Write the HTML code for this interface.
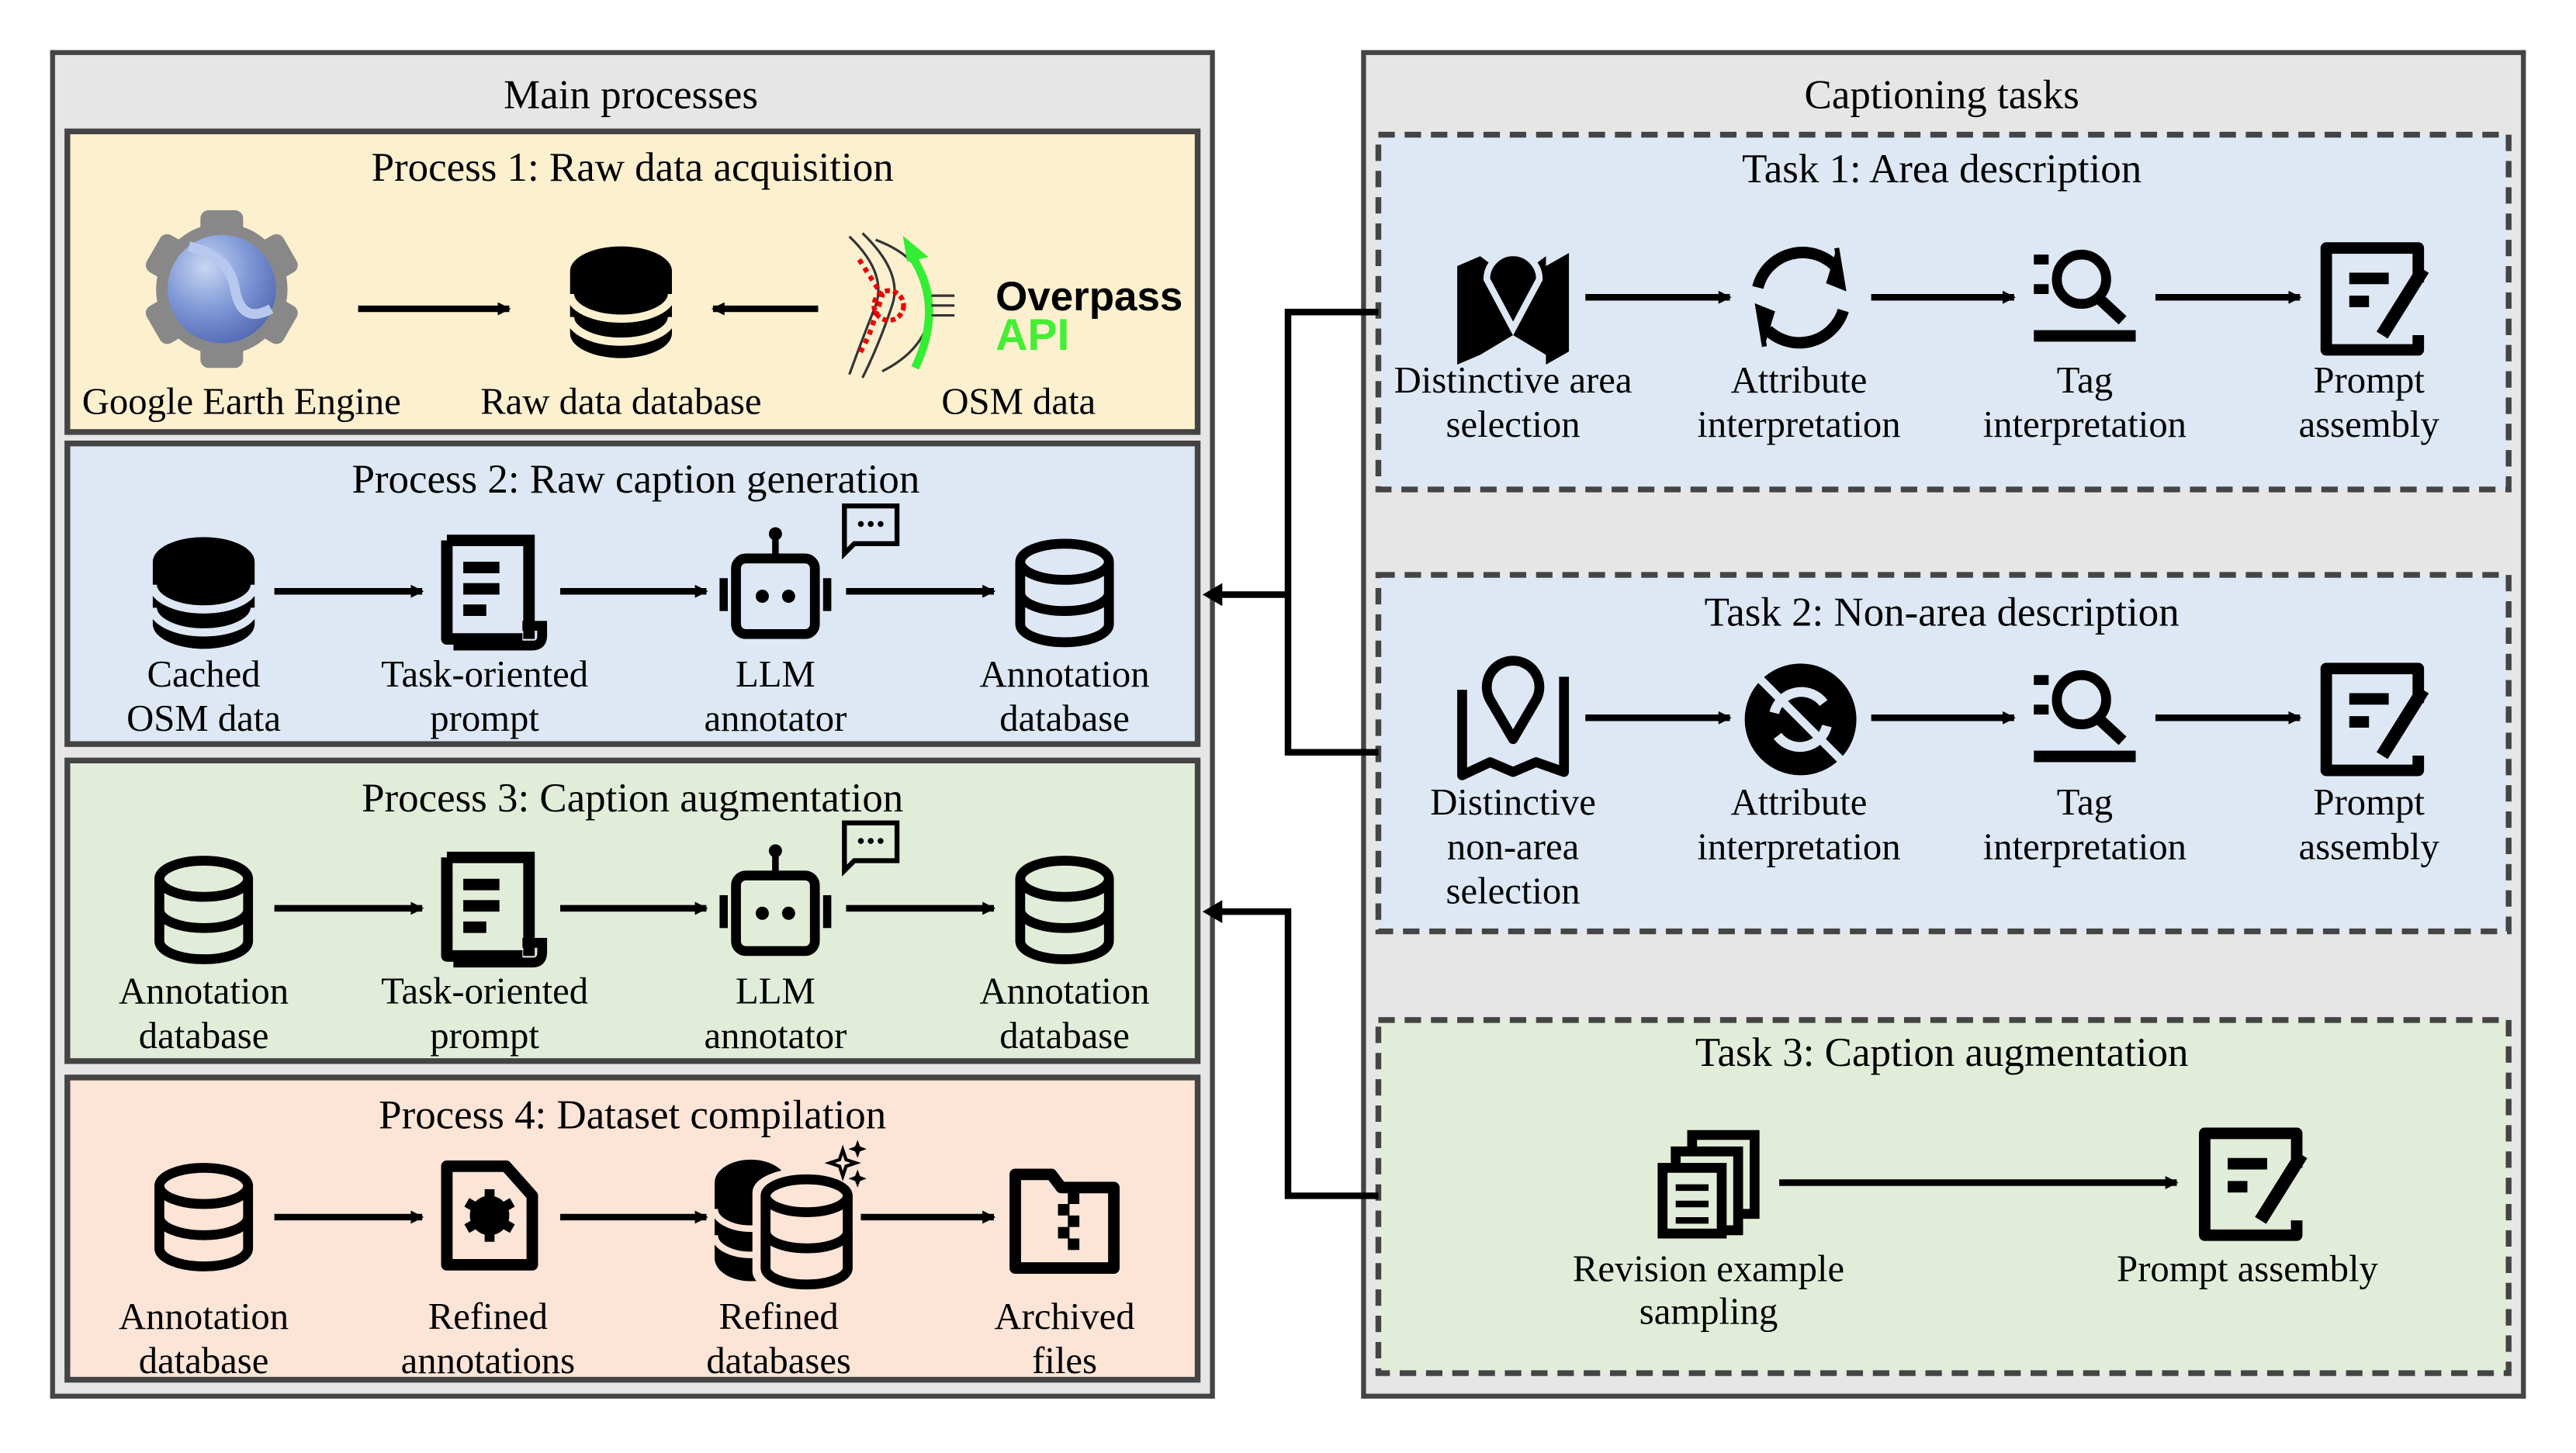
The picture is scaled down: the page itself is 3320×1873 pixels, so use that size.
<!DOCTYPE html>
<html><head><meta charset="utf-8"><style>html,body{margin:0;padding:0;background:#fff}svg{display:block}</style></head>
<body>
<svg width="3320" height="1873" viewBox="0 0 1568 884.6" xmlns="http://www.w3.org/2000/svg" font-family="'Liberation Serif', serif">
<defs>
<radialGradient id="glb" cx="0.35" cy="0.3" r="0.8"><stop offset="0" stop-color="#c7d6f2"/><stop offset="0.5" stop-color="#7f98d6"/><stop offset="1" stop-color="#4e63b0"/></radialGradient>
<marker id="ah" markerWidth="8" markerHeight="8" refX="7" refY="4" orient="auto" markerUnits="userSpaceOnUse"><path d="M0,0 L8,4 L0,8Z" fill="#000"/></marker>
<g id="odb" fill="none" stroke="#000" stroke-width="6"><ellipse cx="0" cy="-19" rx="27" ry="11"/><path d="M-27,-19 V19 A27,11 0 0 0 27,19 V-19"/><path d="M-27,0 A27,11 0 0 0 27,0"/></g>
<g id="doc"><path d="M-26,-30 H24 V30" fill="none" stroke="#000" stroke-width="7"/><path d="M-26,-30 V30 H20" fill="none" stroke="#000" stroke-width="7" stroke-linejoin="round"/><path d="M20,22 H32 V28 Q32,34 26,34 H-22" fill="none" stroke="#000" stroke-width="6"/><rect x="-16" y="-17" width="22" height="7"/><rect x="-16" y="-4" width="22" height="7"/><rect x="-16" y="9" width="14" height="7"/></g>
<g id="bot"><rect x="-24" y="-18" width="48" height="46" rx="6" fill="none" stroke="#000" stroke-width="6"/><circle cx="-8" cy="5" r="4"/><circle cx="8" cy="5" r="4"/><rect x="-2" y="-32" width="4" height="14"/><circle cx="0" cy="-33" r="4"/><rect x="-34" y="-6" width="5" height="20"/><rect x="29" y="-6" width="5" height="20"/><path d="M42,-50 H74 V-27 H48 L42,-21Z" fill="none" stroke="#000" stroke-width="3"/><circle cx="52" cy="-39" r="1.8"/><circle cx="58" cy="-39" r="1.8"/><circle cx="64" cy="-39" r="1.8"/></g>
<g id="pe"><path d="M28,-10 V-31 H-28 V31 H28 V22" fill="none" stroke="#000" stroke-width="7" stroke-linejoin="round"/><rect x="-14" y="-16" width="24" height="7"/><rect x="-14" y="-2" width="12" height="7"/><path d="M6,22 L31,-18" stroke="#000" stroke-width="8"/></g>
<g id="ls"><rect x="-32" y="-27" width="9" height="6"/><rect x="-32" y="-9" width="9" height="6"/><circle cx="-3" cy="-12" r="15" fill="none" stroke="#000" stroke-width="6"/><path d="M8,0 L22,13" stroke="#000" stroke-width="7"/><rect x="-32" y="19" width="62" height="7"/></g>
</defs>

<rect x="32" y="32" width="706" height="818" fill="#e6e6e6" stroke="#444" stroke-width="3"/>
<text x="384" y="66" font-size="25" text-anchor="middle">Main processes</text>

<rect x="41" y="80" width="688" height="183" fill="#fdf0cf" stroke="#444" stroke-width="3.5"/>
<rect x="41" y="270" width="688" height="183" fill="#dde8f4" stroke="#444" stroke-width="3.5"/>
<rect x="41" y="463" width="688" height="183" fill="#e2edd9" stroke="#444" stroke-width="3.5"/>
<rect x="41" y="656" width="688" height="184" fill="#fce4d6" stroke="#444" stroke-width="3.5"/>

<g font-size="25" text-anchor="middle">
<text x="385" y="110">Process 1: Raw data acquisition</text>
<text x="387" y="300">Process 2: Raw caption generation</text>
<text x="385" y="494">Process 3: Caption augmentation</text>
<text x="385" y="687">Process 4: Dataset compilation</text>
</g>

<g transform="translate(135,176)">
<g fill="#888"><circle r="40"/><rect x="-13" y="-48" width="26" height="96" rx="5"/><rect x="-13" y="-48" width="26" height="96" rx="5" transform="rotate(60)"/><rect x="-13" y="-48" width="26" height="96" rx="5" transform="rotate(120)"/></g>
<circle r="33" fill="url(#glb)"/>
<path d="M-20,-26 Q5,-20 8,0 Q12,22 30,12" fill="none" stroke="#b7c8ee" stroke-width="6"/>
</g>
<line x1="218" y1="188" x2="310" y2="188" stroke="#000" stroke-width="4" marker-end="url(#ah)"/>
<g transform="translate(378,183)"><path d="M-31,-18 A31,15 0 0 1 31,-18 V20 A31,15 0 0 1 -31,20Z"/><path d="M-31,-4 A31,15 0 0 0 31,-4 M-31,10 A31,15 0 0 0 31,10" fill="none" stroke="#fdf0cf" stroke-width="5"/></g>
<line x1="498" y1="188" x2="434" y2="188" stroke="#000" stroke-width="4" marker-end="url(#ah)"/>
<g transform="translate(545,186)" fill="none">
<path d="M-28,-42 Q-5,-20 -12,0 Q-20,20 -28,42 M-20,-44 Q5,-20 -2,0 Q-10,24 -20,44 M-12,-40 Q20,-28 22,0 Q20,26 -8,40" stroke="#333" stroke-width="1.5"/>
<path d="M-22,-28 L-8,-6 L-16,18 L-22,30" stroke="#e00" stroke-width="3" stroke-dasharray="3,3"/>
<circle cx="-4" cy="0" r="9" stroke="#e00" stroke-width="3" stroke-dasharray="3,2"/>
<path d="M10,-30 Q30,0 12,38" stroke="#3e3" stroke-width="5"/><path d="M6,-40 L18,-30 L8,-28Z" fill="#3e3" stroke="#3e3" stroke-width="2"/>
<path d="M22,-6 H36 M22,0 H36 M22,6 H36" stroke="#333" stroke-width="1.5"/>
</g>
<text x="606" y="189" font-family="'Liberation Sans',sans-serif" font-weight="bold" font-size="25">Overpass</text>
<text x="606" y="213" font-family="'Liberation Sans',sans-serif" font-weight="bold" font-size="27" fill="#44ee33">API</text>
<g font-size="23" text-anchor="middle">
<text x="147" y="252">Google Earth Engine</text><text x="378" y="252">Raw data database</text><text x="620" y="252">OSM data</text>
</g>

<g transform="translate(124,360)"><path d="M-31,-18 A31,15 0 0 1 31,-18 V20 A31,15 0 0 1 -31,20Z"/><path d="M-31,-4 A31,15 0 0 0 31,-4 M-31,10 A31,15 0 0 0 31,10" fill="none" stroke="#dde8f4" stroke-width="5"/></g>
<use href="#doc" transform="translate(298,359)"/>
<use href="#bot" transform="translate(472,358)"/>
<use href="#odb" transform="translate(648,361)"/>
<g stroke="#000" stroke-width="4" marker-end="url(#ah)"><line x1="167" y1="360" x2="257" y2="360"/><line x1="341" y1="360" x2="430" y2="360"/><line x1="515" y1="360" x2="605" y2="360"/></g>
<g font-size="23" text-anchor="middle">
<text x="124" y="418">Cached</text><text x="124" y="445">OSM data</text>
<text x="295" y="418">Task-oriented</text><text x="295" y="445">prompt</text>
<text x="472" y="418">LLM</text><text x="472" y="445">annotator</text>
<text x="648" y="418">Annotation</text><text x="648" y="445">database</text>
</g>

<use href="#odb" transform="translate(124,554)"/>
<use href="#doc" transform="translate(298,552)"/>
<use href="#bot" transform="translate(472,551)"/>
<use href="#odb" transform="translate(648,554)"/>
<g stroke="#000" stroke-width="4" marker-end="url(#ah)"><line x1="167" y1="553" x2="257" y2="553"/><line x1="341" y1="553" x2="430" y2="553"/><line x1="515" y1="553" x2="605" y2="553"/></g>
<g font-size="23" text-anchor="middle">
<text x="124" y="611">Annotation</text><text x="124" y="638">database</text>
<text x="295" y="611">Task-oriented</text><text x="295" y="638">prompt</text>
<text x="472" y="611">LLM</text><text x="472" y="638">annotator</text>
<text x="648" y="611">Annotation</text><text x="648" y="638">database</text>
</g>

<use href="#odb" transform="translate(124,741)"/>
<g transform="translate(298,740)"><path d="M-26,-30 H10 L26,-12 V30 H-26Z" fill="none" stroke="#000" stroke-width="7" stroke-linejoin="round"/><circle r="9" fill="none" stroke="#000" stroke-width="6"/><g><rect x="-3" y="-16" width="6" height="32"/><rect x="-3" y="-16" width="6" height="32" transform="rotate(60)"/><rect x="-3" y="-16" width="6" height="32" transform="rotate(120)"/></g></g>
<g transform="translate(475,742)"><path d="M-40,-22 A22,14 0 0 1 4,-22 V24 A22,14 0 0 1 -40,24Z"/><path d="M-40,-6 A22,12 0 0 0 4,-6 M-40,10 A22,12 0 0 0 4,10" fill="none" stroke="#fce4d6" stroke-width="4"/>
<g transform="translate(16,6)"><path d="M-31,-22 A31,13 0 0 1 31,-22 V26 A31,13 0 0 1 -31,26Z" fill="#fce4d6" stroke="#fce4d6" stroke-width="4"/><g fill="none" stroke="#000" stroke-width="6"><ellipse cx="0" cy="-20" rx="25" ry="10"/><path d="M-25,-20 V24 A25,10 0 0 0 25,24 V-20"/><path d="M-25,2 A25,10 0 0 0 25,2"/></g></g>
<path d="M38,-42 L40,-36 L46,-34 L40,-32 L38,-26 L36,-32 L30,-34 L36,-36Z" fill="none" stroke="#000" stroke-width="2"/><path d="M47,-48 l1.5,4 l4,1.5 l-4,1.5 l-1.5,4 l-1.5,-4 l-4,-1.5 l4,-1.5Z"/><path d="M47,-30 l1.5,4 l4,1.5 l-4,1.5 l-1.5,4 l-1.5,-4 l-4,-1.5 l4,-1.5Z"/></g>
<g transform="translate(648,742)"><path d="M-30,-27 H-8 L-2,-19 H30 V30 H-30Z" fill="none" stroke="#000" stroke-width="7" stroke-linejoin="round"/><rect x="2" y="-16" width="7" height="7"/><rect x="-4" y="-9" width="7" height="7"/><rect x="2" y="-2" width="7" height="7"/><rect x="-4" y="5" width="7" height="7"/><rect x="2" y="12" width="7" height="7"/></g>
<g stroke="#000" stroke-width="4" marker-end="url(#ah)"><line x1="167" y1="741" x2="257" y2="741"/><line x1="341" y1="741" x2="430" y2="741"/><line x1="524" y1="741" x2="605" y2="741"/></g>
<g font-size="23" text-anchor="middle">
<text x="124" y="809">Annotation</text><text x="124" y="836">database</text>
<text x="297" y="809">Refined</text><text x="297" y="836">annotations</text>
<text x="474" y="809">Refined</text><text x="474" y="836">databases</text>
<text x="648" y="809">Archived</text><text x="648" y="836">files</text>
</g>

<rect x="830" y="32" width="706" height="818" fill="#e6e6e6" stroke="#444" stroke-width="3"/>
<text x="1182" y="66" font-size="25" text-anchor="middle">Captioning tasks</text>
<g stroke="#444" stroke-width="3.5" stroke-dasharray="10,6">
<rect x="839" y="82" width="688" height="216" fill="#dde8f4"/>
<rect x="839" y="350" width="688" height="217" fill="#dde8f4"/>
<rect x="839" y="621" width="688" height="215" fill="#e2edd9"/>
</g>
<g font-size="25" text-anchor="middle">
<text x="1182" y="111">Task 1: Area description</text>
<text x="1182" y="381">Task 2: Non-area description</text>
<text x="1182" y="649">Task 3: Caption augmentation</text>
</g>

<g transform="translate(921,182)"><path d="M-34,-20 L-20,-26 V34 L-34,40Z M34,-28 V32 L20,40 V-20Z M-20,-26 L-12,-20 L0,6 L12,-20 L20,-26 V34 L0,22 L-20,34Z"/><path d="M0,18 L-16,-12 A16,16 0 1 1 16,-12Z" fill="#000" stroke="#dde8f4" stroke-width="4"/></g>
<g transform="translate(1096,181)" fill="none" stroke="#000" stroke-width="7"><path d="M-26,-6 A28,28 0 0 1 22,-18"/><path d="M26,8 A28,28 0 0 1 -20,20"/><path d="M22,-30 L26,-6 L16,-10" fill="#000" stroke-width="3"/><path d="M-22,30 L-26,6 L-16,10" fill="#000" stroke-width="3"/></g>
<use href="#ls" transform="translate(1270,182)"/>
<use href="#pe" transform="translate(1444,182)"/>
<g stroke="#000" stroke-width="4" marker-end="url(#ah)"><line x1="965" y1="181" x2="1053" y2="181"/><line x1="1139" y1="181" x2="1226" y2="181"/><line x1="1312" y1="181" x2="1400" y2="181"/></g>
<g font-size="23" text-anchor="middle">
<text x="921" y="239">Distinctive area</text><text x="921" y="266">selection</text>
<text x="1095" y="239">Attribute</text><text x="1095" y="266">interpretation</text>
<text x="1269" y="239">Tag</text><text x="1269" y="266">interpretation</text>
<text x="1442" y="239">Prompt</text><text x="1442" y="266">assembly</text>
</g>

<g transform="translate(921,438)" fill="none" stroke="#000" stroke-width="6" stroke-linejoin="round"><path d="M-31,-18 V34 L-14,26 L0,32 L14,26 L31,32 V-26"/><path d="M0,12 L-14,-12 A16,16 0 1 1 14,-12Z"/></g>
<g transform="translate(1096,438)"><circle r="34"/><path d="M-16,-4 A17,17 0 0 1 14,-10 M16,4 A17,17 0 0 1 -14,10" fill="none" stroke="#dde8f4" stroke-width="6"/><path d="M-26,-26 L26,26" stroke="#dde8f4" stroke-width="5"/></g>
<use href="#ls" transform="translate(1270,438)"/>
<use href="#pe" transform="translate(1444,438)"/>
<g stroke="#000" stroke-width="4" marker-end="url(#ah)"><line x1="965" y1="437" x2="1053" y2="437"/><line x1="1139" y1="437" x2="1226" y2="437"/><line x1="1312" y1="437" x2="1400" y2="437"/></g>
<g font-size="23" text-anchor="middle">
<text x="921" y="496">Distinctive</text><text x="921" y="523">non-area</text><text x="921" y="550">selection</text>
<text x="1095" y="496">Attribute</text><text x="1095" y="523">interpretation</text>
<text x="1269" y="496">Tag</text><text x="1269" y="523">interpretation</text>
<text x="1442" y="496">Prompt</text><text x="1442" y="523">assembly</text>
</g>

<g transform="translate(1040,721)" fill="none" stroke="#000" stroke-width="6"><path d="M-10,-22 V-30 H28 V18 H18"/><path d="M-20,-12 V-20 H18 V28 H8"/><rect x="-28" y="-10" width="36" height="40"/><path d="M-20,2 H0 M-20,12 H0 M-20,22 H0" stroke-width="4"/></g>
<use href="#pe" transform="translate(1370,721)"/>
<line x1="1083" y1="720" x2="1325" y2="720" stroke="#000" stroke-width="4" marker-end="url(#ah)"/>
<g font-size="23" text-anchor="middle">
<text x="1040" y="780">Revision example</text><text x="1040" y="806">sampling</text>
<text x="1368" y="780">Prompt assembly</text>
</g>

<g fill="none" stroke="#000" stroke-width="4">
<path d="M839,190 H784 V458 H839"/>
<path d="M784,362 H740"/>
<path d="M839,728 H784 V555 H740"/>
</g>
<path d="M732,362 L744,355 L744,369Z"/>
<path d="M732,555 L744,548 L744,562Z"/>
</svg>
</body></html>
